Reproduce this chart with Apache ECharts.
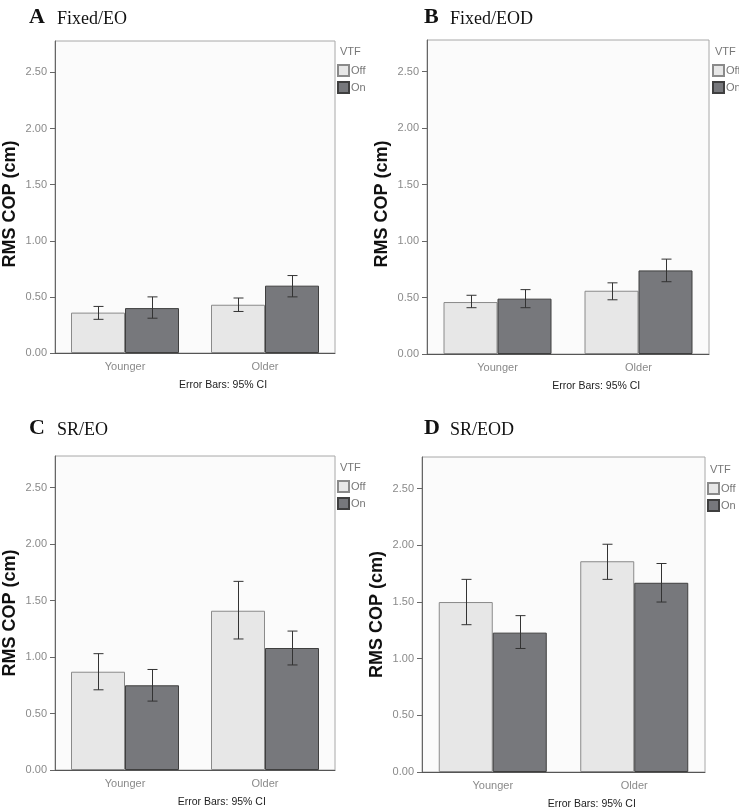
<!DOCTYPE html>
<html>
<head>
<meta charset="utf-8">
<script src="https://cdn.jsdelivr.net/npm/echarts@6/dist/echarts.min.js"></script>
<style>
  html, body { margin: 0; background: #fff; }
  #chart { width: 739px; height: 808px; }
</style>
</head>
<body>
<div id="chart"></div>
<script>
const CATEGORIES = ['Younger', 'Older']
const LETTERS = ['A', 'B', 'C', 'D']
const CONDITIONS = ['Fixed/EO', 'Fixed/EOD', 'SR/EO', 'SR/EOD']
const Y_TICKS = [0, 0.5, 1, 1.5, 2, 2.5]
const Y_MAX = 2.78

// per panel: [Younger, Older]
const OFF_MEAN = [[0.36, 0.43], [0.46, 0.56], [0.87, 1.41], [1.50, 1.86]]
const ON_MEAN  = [[0.40, 0.60], [0.49, 0.74], [0.75, 1.08], [1.23, 1.67]]
const OFF_LO   = [[0.30, 0.37], [0.41, 0.48], [0.71, 1.16], [1.30, 1.70]]
const OFF_HI   = [[0.415, 0.49], [0.52, 0.63], [1.03, 1.67], [1.70, 2.01]]
const ON_LO    = [[0.31, 0.50], [0.41, 0.64], [0.61, 0.93], [1.09, 1.50]]
const ON_HI    = [[0.50, 0.69], [0.57, 0.84], [0.89, 1.23], [1.38, 1.84]]

const GRIDS = [
  { left: 55,  top: 41,  width: 280, height: 312 },
  { left: 427, top: 40,  width: 282, height: 314 },
  { left: 52,  top: 456, width: 283, height: 314 },
  { left: 422, top: 457, width: 283, height: 315 },
]
const TITLE_POS = [[29, 57, 28], [424, 450, 28], [29, 57, 439], [424, 450, 439]]
const LEGEND_POS = [[337, 64], [712, 64], [337, 480], [707, 482]]
// top row axis titles sit a little lower than the plot centre
const NAME_SHIFT = [14, 14, 0, 0]

const BAR_W = 54
const OFF_COLOR = '#e7e7e7'
const ON_COLOR = '#77787c'

function errorBars(offset) {
  return (params, api) => {
    const lo = api.coord([api.value(0), api.value(1)])
    const hi = api.coord([api.value(0), api.value(2)])
    const cx = Math.round(lo[0] + offset) + 0.5
    const style = { stroke: '#333', lineWidth: 1 }
    return {
      type: 'group',
      children: [
        { type: 'line', shape: { x1: cx, y1: hi[1], x2: cx, y2: lo[1] }, style },
        { type: 'line', shape: { x1: cx - 5, y1: hi[1], x2: cx + 5, y2: hi[1] }, style },
        { type: 'line', shape: { x1: cx - 5, y1: lo[1], x2: cx + 5, y2: lo[1] }, style },
      ],
    }
  }
}

const grid = [], xAxis = [], yAxis = [], series = [], legend = [], graphic = []

GRIDS.forEach((g, i) => {
  grid.push({ ...g, show: true, backgroundColor: '#fbfbfb', borderColor: '#a8a8a8', borderWidth: 1 })

  xAxis.push({
    type: 'category', gridIndex: i, data: CATEGORIES,
    axisLine: { lineStyle: { color: '#555' } },
    axisTick: { alignWithLabel: true, length: 4, lineStyle: { color: '#555' } },
    axisLabel: { color: '#8a8a8a', fontSize: 11, fontFamily: 'Arial', margin: 8 },
  })

  yAxis.push({
    type: 'value', gridIndex: i, min: 0, max: Y_MAX,
    name: 'RMS COP (cm)', nameLocation: 'middle', nameRotate: 90, nameGap: 36,
    nameTextStyle: {
      color: '#111', fontSize: 18, fontWeight: 'bold', fontFamily: 'Arial',
      padding: [0, NAME_SHIFT[i], 0, 0],
    },
    axisLine: { show: true, lineStyle: { color: '#666' } },
    axisTick: { show: true, length: 5, customValues: Y_TICKS, lineStyle: { color: '#666' } },
    axisLabel: {
      color: '#8a8a8a', fontSize: 11, fontFamily: 'Arial', margin: 8,
      customValues: Y_TICKS, formatter: (v) => v.toFixed(2),
    },
    splitLine: { show: false },
  })

  series.push({
    name: 'Off', type: 'bar', xAxisIndex: i, yAxisIndex: i,
    barWidth: BAR_W, barGap: '0%',
    itemStyle: { color: OFF_COLOR, borderColor: '#8a8a8a', borderWidth: 1 },
    data: OFF_MEAN[i],
  })
  series.push({
    name: 'On', type: 'bar', xAxisIndex: i, yAxisIndex: i,
    barWidth: BAR_W, barGap: '0%',
    itemStyle: { color: ON_COLOR, borderColor: '#3f3f3f', borderWidth: 1 },
    data: ON_MEAN[i],
  })
  series.push({
    type: 'custom', xAxisIndex: i, yAxisIndex: i, z: 5,
    renderItem: errorBars(-BAR_W / 2),
    encode: { x: 0, y: [1, 2] },
    data: CATEGORIES.map((_, k) => [k, OFF_LO[i][k], OFF_HI[i][k]]),
  })
  series.push({
    type: 'custom', xAxisIndex: i, yAxisIndex: i, z: 5,
    renderItem: errorBars(BAR_W / 2),
    encode: { x: 0, y: [1, 2] },
    data: CATEGORIES.map((_, k) => [k, ON_LO[i][k], ON_HI[i][k]]),
  })

  const [lx, ly] = LEGEND_POS[i]
  legend.push({
    data: ['Off', 'On'], orient: 'vertical', left: lx, top: ly, padding: 0,
    itemWidth: 11, itemHeight: 11, itemGap: 4, icon: 'rect', selectedMode: false,
    textStyle: { color: '#777', fontSize: 11, fontFamily: 'Arial', padding: [0, 0, 0, -3] },
  })

  const [tx, nx, base] = TITLE_POS[i]
  graphic.push({
    type: 'text', x: tx, y: base, style: {
      text: LETTERS[i], fill: '#111', verticalAlign: 'bottom',
      font: 'bold 22px "Liberation Serif", "Times New Roman", serif',
    },
  })
  graphic.push({
    type: 'text', x: nx, y: base, style: {
      text: CONDITIONS[i], fill: '#111', verticalAlign: 'bottom',
      font: '18px "Liberation Serif", "Times New Roman", serif',
    },
  })
  graphic.push({
    type: 'text', x: lx + 3, y: ly - 12, style: {
      text: 'VTF', fill: '#777', verticalAlign: 'middle', font: '11px Arial',
    },
  })
  graphic.push({
    type: 'text', x: g.left + g.width * 0.6, y: g.top + g.height + 32, style: {
      text: 'Error Bars: 95% CI', fill: '#222', align: 'center', verticalAlign: 'middle',
      font: '10.5px Arial',
    },
  })
})

const chart = echarts.init(document.getElementById('chart'), null, { renderer: 'canvas' })
chart.setOption({
  backgroundColor: '#fff',
  animation: false,
  grid, xAxis, yAxis, series, legend, graphic,
})
</script>
</body>
</html>
